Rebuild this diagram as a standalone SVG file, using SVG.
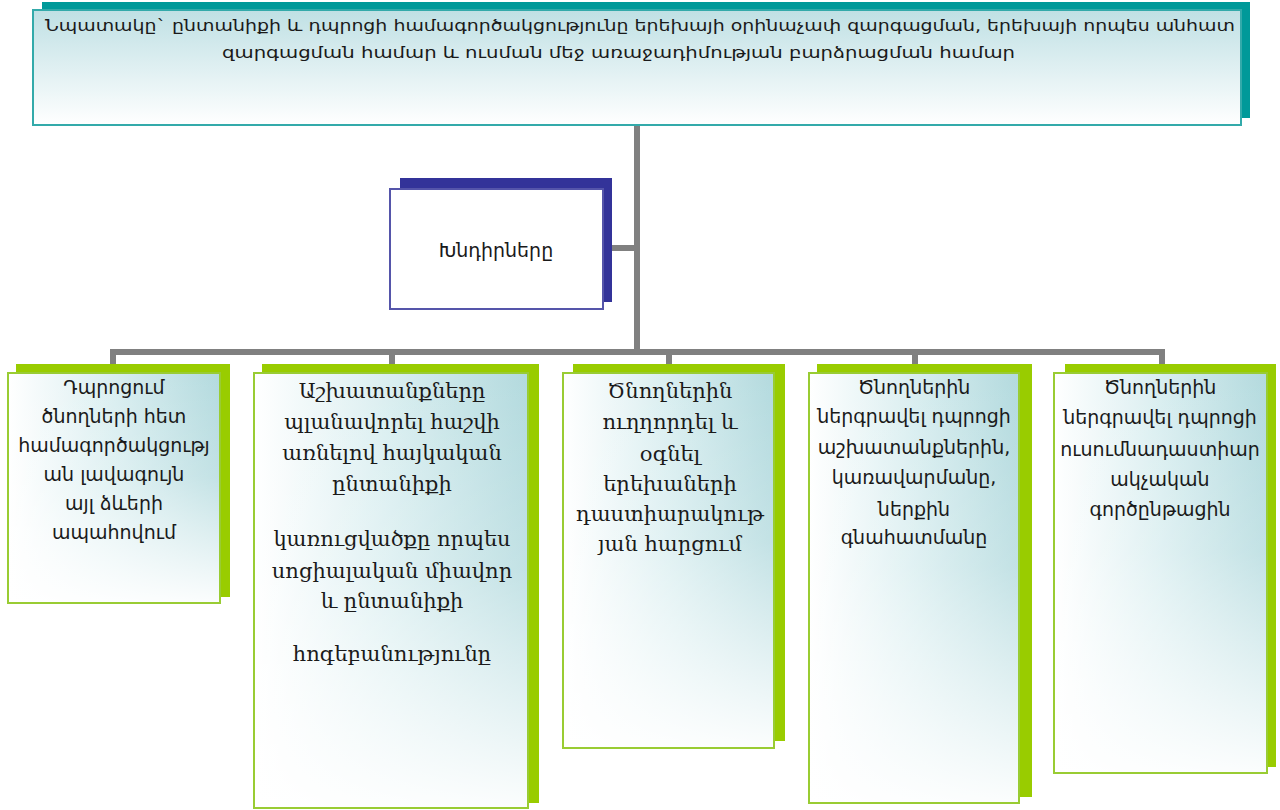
<svg xmlns="http://www.w3.org/2000/svg" width="1280" height="810" viewBox="0 0 1280 810">
<style>
.sans{font-family:"DejaVu Sans","Noto Sans",sans-serif;fill:#1a1a1a;}
.serif{font-family:"DejaVu Serif","Liberation Serif",serif;fill:#1a1a1a;}
.bt{font-size:19px;text-anchor:middle;}
.bs{font-size:21px;text-anchor:middle;}
.conn{stroke:#808080;stroke-width:6;fill:none;}
.gshadow{fill:#99cc00;}
.gfront{stroke:#99cc33;stroke-width:2;}
</style>
<defs>
<linearGradient id="hgrad" x1="0" y1="0" x2="1" y2="0">
<stop offset="0" stop-color="#ffffff"/>
<stop offset="0.5" stop-color="#d9eef0"/>
<stop offset="1" stop-color="#b3dade"/>
</linearGradient>
<linearGradient id="vfade" x1="0" y1="0" x2="0" y2="1">
<stop offset="0" stop-color="#ffffff" stop-opacity="0"/>
<stop offset="0.45" stop-color="#ffffff" stop-opacity="0.2"/>
<stop offset="1" stop-color="#ffffff" stop-opacity="0.95"/>
</linearGradient>
<linearGradient id="tgrad" x1="0" y1="0" x2="0" y2="1">
<stop offset="0" stop-color="#bfe0e4"/>
<stop offset="1" stop-color="#ffffff"/>
</linearGradient>
</defs>

<g id="connectors">
<path class="conn" d="M637 125 V352"/>
<path class="conn" d="M110 352 H1165"/>
<path class="conn" d="M113 349 V366"/>
<path class="conn" d="M392 349 V366"/>
<path class="conn" d="M669 349 V366"/>
<path class="conn" d="M915 349 V366"/>
<path class="conn" d="M1162 349 V366"/>
<path class="conn" d="M610 248 H640"/>
</g>

<g id="goal">
<rect x="42" y="2" width="1208" height="116" fill="#009999"/>
<rect x="33" y="10" width="1208" height="115" fill="url(#tgrad)" stroke="#33aaaa" stroke-width="2"/>
<text class="sans" x="45" y="31" font-size="16" textLength="1190" lengthAdjust="spacingAndGlyphs">Նպատակը`  ընտանիքի և դպրոցի համագործակցությունը երեխայի օրինաչափ զարգացման, երեխայի որպես անհատ</text>
<text class="sans" x="222" y="58" font-size="16" textLength="793" lengthAdjust="spacingAndGlyphs">զարգացման համար և ուսման մեջ առաջադիմության բարձրացման համար</text>
</g>

<g id="tasks">
<rect x="400" y="178" width="212" height="124" fill="#333399"/>
<rect x="390" y="189" width="213" height="120" fill="#ffffff" stroke="#5555aa" stroke-width="2"/>
<text class="sans" x="496" y="257" font-size="19" text-anchor="middle">Խնդիրները</text>
</g>

<g id="box1">
<rect class="gshadow" x="16" y="364" width="214" height="233"/>
<rect x="8" y="373" width="212" height="230" fill="url(#hgrad)"/>
<rect class="gfront" x="8" y="373" width="212" height="230" fill="url(#vfade)"/>
<text class="sans bt" x="114" y="394">Դպրոցում</text>
<text class="sans bt" x="114" y="423">ծնողների հետ</text>
<text class="sans bt" x="114" y="452">համագործակցությ</text>
<text class="sans bt" x="114" y="481">ան լավագույն</text>
<text class="sans bt" x="114" y="510">այլ ձևերի</text>
<text class="sans bt" x="114" y="539">ապահովում</text>
</g>

<g id="box2">
<rect class="gshadow" x="262" y="364" width="277" height="439"/>
<rect x="254" y="373" width="274" height="435" fill="url(#hgrad)"/>
<rect class="gfront" x="254" y="373" width="274" height="435" fill="url(#vfade)"/>
<text class="serif bs" x="392" y="398">Աշխատանքները</text>
<text class="serif bs" x="392" y="429">պլանավորել հաշվի</text>
<text class="serif bs" x="392" y="460">առնելով հայկական</text>
<text class="serif bs" x="392" y="491">ընտանիքի</text>
<text class="serif bs" x="392" y="546">կառուցվածքը որպես</text>
<text class="serif bs" x="392" y="578">սոցիալական միավոր</text>
<text class="serif bs" x="392" y="608">և ընտանիքի</text>
<text class="serif bs" x="392" y="661">հոգեբանությունը</text>
</g>

<g id="box3">
<rect class="gshadow" x="573" y="364" width="212" height="377"/>
<rect x="563" y="373" width="211" height="375" fill="url(#hgrad)"/>
<rect class="gfront" x="563" y="373" width="211" height="375" fill="url(#vfade)"/>
<text class="serif bs" x="670" y="398">Ծնողներին</text>
<text class="serif bs" x="670" y="429">ուղղորդել և</text>
<text class="serif bs" x="670" y="461">օգնել</text>
<text class="serif bs" x="670" y="491">երեխաների</text>
<text class="serif bs" x="670" y="521">դաստիարակութ</text>
<text class="serif bs" x="670" y="551">յան հարցում</text>
</g>

<g id="box4">
<rect class="gshadow" x="817" y="364" width="215" height="433"/>
<rect x="809" y="373" width="210" height="430" fill="url(#hgrad)"/>
<rect class="gfront" x="809" y="373" width="210" height="430" fill="url(#vfade)"/>
<text class="sans bt" x="914" y="394">Ծնողներին</text>
<text class="sans bt" x="914" y="423">ներգրավել  դպրոցի</text>
<text class="sans bt" x="914" y="454">աշխատանքներին,</text>
<text class="sans bt" x="914" y="484">կառավարմանը,</text>
<text class="sans bt" x="914" y="516">ներքին</text>
<text class="sans bt" x="914" y="544">գնահատմանը</text>
</g>

<g id="box5">
<rect class="gshadow" x="1065" y="364" width="211" height="403"/>
<rect x="1054" y="373" width="213" height="400" fill="url(#hgrad)"/>
<rect class="gfront" x="1054" y="373" width="213" height="400" fill="url(#vfade)"/>
<text class="sans bt" x="1160" y="394">Ծնողներին</text>
<text class="sans bt" x="1160" y="424">ներգրավել  դպրոցի</text>
<text class="sans bt" x="1160" y="456">ուսումնադաստիար</text>
<text class="sans bt" x="1160" y="486">ակչական</text>
<text class="sans bt" x="1160" y="516">գործընթացին</text>
</g>
</svg>
